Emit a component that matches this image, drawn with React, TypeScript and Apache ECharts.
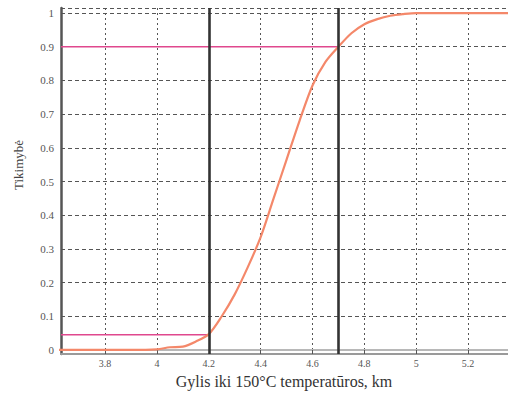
import React, { useEffect, useRef } from "react";
import * as echarts from "echarts";

const depthKm = [3.6, 3.7, 3.8, 3.9, 4.0, 4.05, 4.1, 4.15, 4.2, 4.25, 4.3, 4.35, 4.4, 4.45, 4.5, 4.55, 4.6, 4.65, 4.7, 4.75, 4.8, 4.85, 4.9, 4.95, 5.0, 5.1, 5.2, 5.3, 5.4];
const probability = [0, 0, 0, 0, 0.002, 0.008, 0.01, 0.025, 0.047, 0.1, 0.165, 0.245, 0.335, 0.45, 0.565, 0.68, 0.785, 0.855, 0.9, 0.94, 0.967, 0.982, 0.992, 0.997, 1, 1, 1, 1, 1];
const boundsKm = [4.2, 4.7];
const boundsProb = [0.045, 0.9];
const xMin = 3.63;
const xMax = 5.354;
const yMin = -0.012;
const yMax = 1.015;
const xName = "Gylis iki 150°C temperatūros, km";
const yName = "Tikimybė";

export default function App() {
  const ref = useRef<HTMLDivElement>(null);
  useEffect(() => {
    if (!ref.current) return;
    const chart = echarts.init(ref.current, null, { renderer: "svg" });
    const font = "'Liberation Serif', 'DejaVu Serif', serif";
    const curve = depthKm.map((x, i) => [x, probability[i]]);
    chart.setOption({
      animation: false,
      backgroundColor: "#ffffff",
      grid: { left: 61, right: 0, top: 8, bottom: 40, containLabel: false },
      xAxis: [
        {
          type: "value",
          min: xMin,
          max: xMax,
          splitNumber: 8,
          minInterval: 0.2,
          maxInterval: 0.2,
          axisLine: { show: true, onZero: false, lineStyle: { color: "#9a9a9a", width: 2 } },
          axisTick: { show: true, inside: true, length: 4, lineStyle: { color: "#555" } },
          axisLabel: { color: "#555", fontSize: 10, fontFamily: font, margin: 4, showMinLabel: false, showMaxLabel: false },
          splitLine: { show: true, lineStyle: { color: "#555", width: 1, type: [2, 3] } },
        },
        {
          type: "value",
          position: "top",
          min: xMin,
          max: xMax,
          axisLine: { show: true, lineStyle: { color: "#b8b8b8", width: 2 } },
          axisTick: { show: false },
          axisLabel: { show: false },
          splitLine: { show: false },
        },
      ],
      yAxis: {
        type: "value",
        min: yMin,
        max: yMax,
        splitNumber: 10,
        minInterval: 0.1,
        maxInterval: 0.1,
        axisLine: { show: true, onZero: false, lineStyle: { color: "#555", width: 2.5 } },
        axisTick: { show: false },
        axisLabel: { color: "#555", fontSize: 11, fontFamily: font, margin: 7, showMinLabel: false, showMaxLabel: false },
        splitLine: { show: true, lineStyle: { color: "#555", width: 1, type: [4, 3] } },
      },
      series: [
        {
          type: "line",
          data: [[xMin, boundsProb[1]], [boundsKm[1], boundsProb[1]]],
          symbol: "none",
          lineStyle: { color: "#e0488e", width: 1.6 },
          z: 3,
        },
        {
          type: "line",
          data: [[xMin, boundsProb[0]], [boundsKm[0], boundsProb[0]]],
          symbol: "none",
          lineStyle: { color: "#e0488e", width: 1.6 },
          z: 3,
        },
        {
          type: "line",
          data: curve,
          symbol: "none",
          smooth: 0.3,
          lineStyle: { color: "#f4886a", width: 2.2 },
          z: 4,
          markLine: {
            silent: true,
            symbol: "none",
            label: { show: false },
            lineStyle: { color: "#333", width: 2.6, type: "solid" },
            data: boundsKm.map((v) => ({ xAxis: v })),
          },
        },
      ],
      graphic: [
        {
          type: "text",
          x: 18,
          y: 165,
          rotation: Math.PI / 2,
          style: { text: yName, fill: "#444", font: "13px " + font, textAlign: "center", textVerticalAlign: "middle" },
        },
        {
          type: "text",
          x: 284,
          y: 381,
          style: { text: xName, fill: "#333", font: "16px " + font, textAlign: "center", textVerticalAlign: "middle" },
        },
      ],
    });
    return () => chart.dispose();
  }, []);
  return <div ref={ref} style={{ width: 508, height: 394, position: "absolute", left: 0, top: 0 }} />;
}
